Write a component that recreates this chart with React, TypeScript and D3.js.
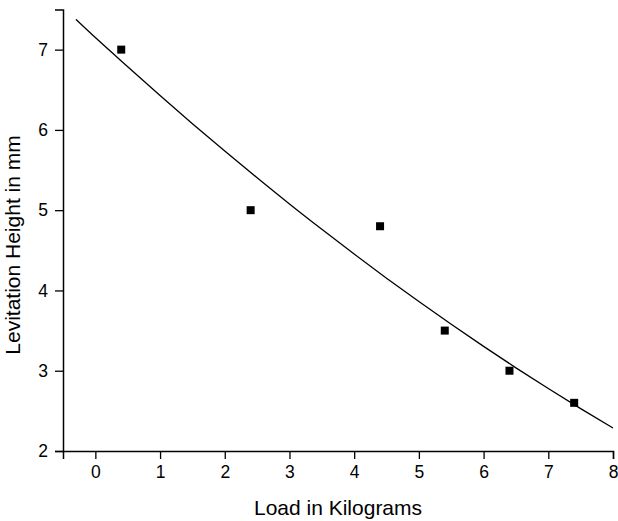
import React, { useEffect, useRef } from 'react';
import * as d3 from 'd3';

// measured points
const loadKg = [0.4, 2.4, 4.4, 5.4, 6.4, 7.4];
const heightMm = [7.0, 5.0, 4.8, 3.5, 3.0, 2.6];

// fitted curve
const fitX = [-0.3, 0, 0.5, 1, 1.5, 2, 2.5, 3, 3.5, 4, 4.5, 5, 5.5, 6, 6.5, 7, 7.5, 8];
const fitY = [7.377, 7.15, 6.787, 6.429, 6.078, 5.737, 5.404, 5.078, 4.762, 4.453, 4.153, 3.862, 3.578, 3.303, 3.036, 2.778, 2.528, 2.286];

const xTicks = [0, 1, 2, 3, 4, 5, 6, 7, 8];
const yTicks = [2, 3, 4, 5, 6, 7];

const width = 618;
const height = 521;
const font = 'Arial, "Liberation Sans", sans-serif';

export default function App() {
	const ref = useRef<SVGSVGElement>(null);

	useEffect(() => {
		const svg = d3.select(ref.current);
		svg.selectAll('*').remove();

		const x = d3.scaleLinear().domain([-0.5, 8]).range([63, 613]);
		const y = d3.scaleLinear().domain([2, 7.5]).range([451, 9.5]);

		// x axis
		const xa = svg.append('g').attr('transform', `translate(0,${y(2)})`);
		xa.call(
			d3.axisBottom(x).tickValues(d3.range(-0.5, 8.01, 0.5)).tickSize(5).tickFormat(() => '')
		);
		xa.call(d3.axisBottom(x).tickValues(xTicks).tickSize(8).tickPadding(7).tickFormat(d3.format('d')));
		xa.selectAll('.domain').attr('stroke-width', 1.5);
		xa.selectAll('line').attr('stroke-width', 1.3);
		xa.selectAll('text').attr('font-family', font).attr('font-size', 17.5).attr('fill', '#000');

		// y axis
		const ya = svg.append('g').attr('transform', `translate(${x(-0.5)},0)`);
		ya.call(
			d3.axisLeft(y).tickValues(d3.range(2, 7.51, 0.5)).tickSize(4).tickFormat(() => '')
		);
		ya.call(d3.axisLeft(y).tickValues(yTicks).tickSize(8).tickPadding(7).tickFormat(d3.format('d')));
		ya.selectAll('.domain').attr('stroke-width', 1.5);
		ya.selectAll('line').attr('stroke-width', 1.3);
		ya.selectAll('text').attr('font-family', font).attr('font-size', 17.5).attr('fill', '#000');

		// fitted curve
		const line = d3
			.line<number>()
			.x((d, i) => x(fitX[i]))
			.y((d) => y(d))
			.curve(d3.curveMonotoneX);
		svg
			.append('path')
			.attr('d', line(fitY))
			.attr('fill', 'none')
			.attr('stroke', '#000')
			.attr('stroke-width', 1.3);

		// points
		svg
			.append('g')
			.selectAll('rect')
			.data(heightMm)
			.enter()
			.append('rect')
			.attr('x', (d, i) => x(loadKg[i]) - 4)
			.attr('y', (d) => y(d) - 4)
			.attr('width', 8)
			.attr('height', 8)
			.attr('fill', '#000');

		// titles
		svg
			.append('text')
			.attr('x', (x(-0.5) + x(8)) / 2)
			.attr('y', 515)
			.attr('text-anchor', 'middle')
			.attr('font-family', font)
			.attr('font-size', 21)
			.text('Load in Kilograms');

		svg
			.append('text')
			.attr('transform', 'translate(20,245) rotate(-90)')
			.attr('text-anchor', 'middle')
			.attr('font-family', font)
			.attr('font-size', 21)
			.text('Levitation Height in mm');
	}, []);

	return (
		<svg
			ref={ref}
			width={width}
			height={height}
			style={{ position: 'absolute', left: 0, top: 0, background: '#fff' }}
		/>
	);
}
